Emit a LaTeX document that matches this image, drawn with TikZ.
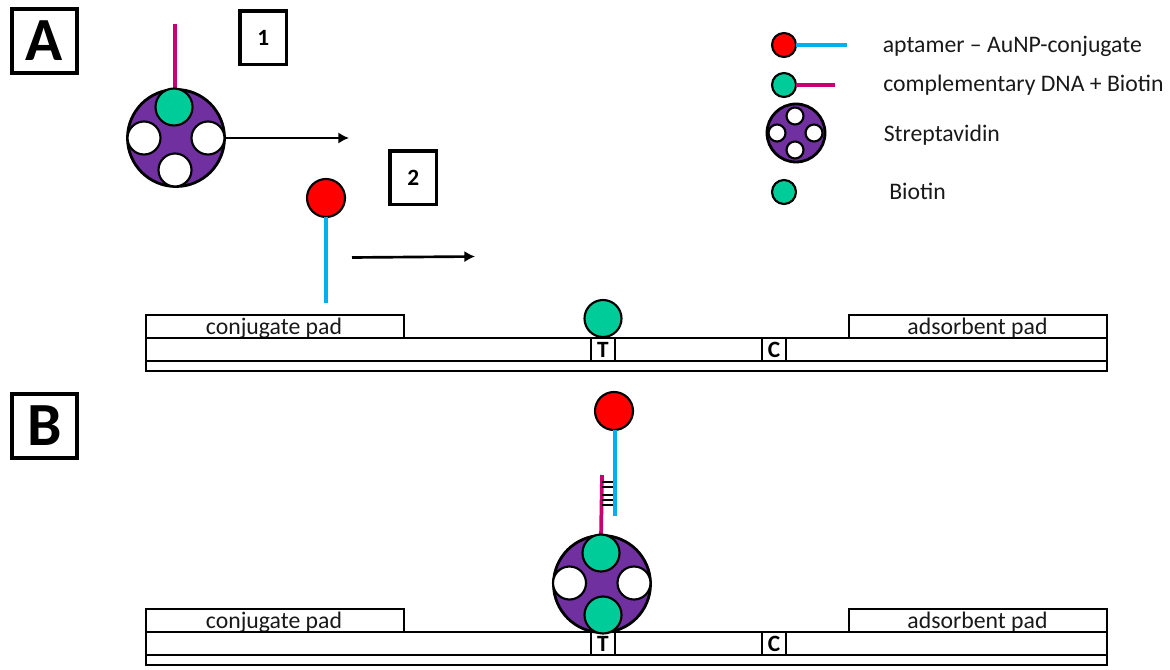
\documentclass[tikz,border=0pt]{standalone}
\usepackage{fontspec}
\setmainfont{Carlito}
\usetikzlibrary{arrows.meta}
\definecolor{biotingreen}{HTML}{00CC99}
\definecolor{avidinpurple}{HTML}{7030A0}
\definecolor{aptamerblue}{HTML}{00B0F0}
\definecolor{dnamagenta}{HTML}{C90070}
\definecolor{goldred}{HTML}{FF0000}
\newcommand{\labelfont}{\fontsize{17.8pt}{20pt}\selectfont}
\newcommand{\markfont}{\fontsize{17.5pt}{19pt}\selectfont}
\tikzset{
  x=0.75pt, y=-0.75pt,
  ball/.style={circle, draw=black, line width=1.6pt, inner sep=0pt, outer sep=0pt, minimum size=#1*1.5pt},
  gold/.style={ball=19, fill=goldred},
  goldsmall/.style={ball=12, fill=goldred},
  biotin/.style={ball=18.5, fill=biotingreen},
  biotinsmall/.style={ball=12, fill=biotingreen},
  avidin/.style={ball=48.5, fill=avidinpurple, line width=2.1pt},
  avidinsmall/.style={ball=29, fill=avidinpurple, line width=2.1pt},
  hole/.style={ball=16.5, fill=white},
  holesmall/.style={ball=8.5, fill=white},
  panel/.style={draw=black, line width=1.7pt, fill=white, inner sep=0pt, outer sep=0pt, anchor=north west},
  padbox/.style={panel, minimum width=193.5pt, minimum height=17.25pt},
  stripbox/.style={panel, minimum width=720.75pt, minimum height=17.25pt},
  backing/.style={panel, minimum width=720.75pt, minimum height=7.5pt},
  linebox/.style={panel, minimum width=18pt, minimum height=17.25pt, font=\markfont\bfseries},
  stepnum/.style={panel, line width=2.5pt, minimum width=35pt, minimum height=40.3pt, font=\markfont\bfseries},
  partbox/.style={panel, line width=3pt, minimum width=48.75pt, minimum height=48pt, font=\fontsize{46pt}{50pt}\selectfont\bfseries},
  padtext/.style={anchor=base, inner sep=0pt, font=\labelfont, text=black!90},
  legendtext/.style={anchor=base west, inner sep=0pt, font=\labelfont, text=black!90},
  blueline/.style={draw=aptamerblue, line width=2.8pt},
  pinkline/.style={draw=dnamagenta, line width=2.8pt},
  flow/.style={draw=black, line width=2pt, -{Latex[length=8pt, width=8.5pt]}},
  basepair/.style={draw=black, line width=1.5pt}
}
\begin{document}
\begin{tikzpicture}
\useasboundingbox (0,0) rectangle (1170,670);

% panel letters and step numbers
\node[partbox] (partA) at (12,9) {A};
\node[partbox] (partB) at (12,394) {B};
\node[stepnum] (stepOne) at (240,11) {1};
\node[stepnum] (stepTwo) at (390,151) {2};

% panel A: biotinylated DNA on streptavidin
\coordinate (pinkTopA) at (175,24);
\draw[pinkline] (pinkTopA) -- (175,92);
\node[avidin] (avidinA) at (176,138) {};
\node[biotin] (avidinAtop) at (174,107) {};
\node[hole] (avidinAleft) at (144,138) {};
\node[hole] (avidinAright) at (208,138) {};
\node[hole] (avidinAbottom) at (175,170) {};
\coordinate (flowOneEnd) at (349,138);
\draw[flow] (avidinA.east) -- (flowOneEnd);

% panel A: aptamer conjugate
\node[gold] (goldA) at (326,198) {};
\coordinate (blueEndA) at (326,303);
\draw[blueline] (goldA.south) -- (blueEndA);
\coordinate (flowTwoStart) at (352,257.5);
\coordinate (flowTwoEnd) at (475,256.5);
\draw[flow] (flowTwoStart) -- (flowTwoEnd);

% panel A: test strip
\node[padbox] (conjPadA) at (146,315) {};
\node[padbox] (absPadA) at (849,315) {};
\node[padtext] (conjTextA) at (274,334) {conjugate pad};
\node[padtext] (absTextA) at (977.5,334) {adsorbent pad};
\node[stripbox] (stripA) at (146,338) {};
\node[backing] (backingA) at (146,361) {};
\node[linebox] (testA) at (591,338) {T};
\node[linebox] (ctrlA) at (762,338) {C};
\node[biotin] (biotinA) at (603,318.5) {};

% panel B: assembled complex on the test line
\node[gold] (goldB) at (614,411) {};
\coordinate (blueEndB) at (615,516);
\draw[blueline] (goldB.south) ++(1,0) -- (blueEndB);
\coordinate (pinkTopB) at (602,475);
\draw[pinkline] (pinkTopB) -- (601,538);
\foreach \yy/\nn in {481.7/a,487.3/b,495/c,499.6/d,505/e}{
  \coordinate (pair\nn L) at (602,\yy);
  \coordinate (pair\nn R) at (613,\yy);
  \draw[basepair] (pair\nn L) -- (pair\nn R);
}
\node[padbox] (conjPadB) at (146,609) {};
\node[padbox] (absPadB) at (849,609) {};
\node[padtext] (conjTextB) at (274,628) {conjugate pad};
\node[padtext] (absTextB) at (977.5,628) {adsorbent pad};
\node[stripbox] (stripB) at (146,632) {};
\node[backing] (backingB) at (146,655) {};
\node[linebox] (testB) at (591,632) {T};
\node[linebox] (ctrlB) at (762,632) {C};
\node[avidin] (avidinB) at (602,584) {};
\node[biotin] (avidinBtop) at (601,553) {};
\node[biotin] (avidinBbottom) at (603,615) {};
\node[hole] (avidinBleft) at (569.5,583) {};
\node[hole] (avidinBright) at (634,583) {};

% legend
\node[goldsmall] (legGold) at (784,45) {};
\coordinate (legBlueEnd) at (847,45);
\draw[blueline] (legGold.east) -- (legBlueEnd);
\node[biotinsmall] (legDna) at (784,85) {};
\coordinate (legPinkEnd) at (835,85);
\draw[pinkline] (legDna.east) -- (legPinkEnd);
\node[avidinsmall] (legAvidin) at (796,133) {};
\node[holesmall] (legHoleTop) at (795,116) {};
\node[holesmall] (legHoleLeft) at (777,133) {};
\node[holesmall] (legHoleRight) at (814,133) {};
\node[holesmall] (legHoleBottom) at (795,150) {};
\node[biotinsmall] (legBiotin) at (784,192) {};
\node[legendtext] (legTextGold) at (882.5,53) {aptamer – AuNP-conjugate};
\node[legendtext] (legTextDna) at (883,92) {complementary DNA + Biotin};
\node[legendtext] (legTextAvidin) at (883.5,142) {Streptavidin};
\node[legendtext] (legTextBiotin) at (889,200) {Biotin};
\end{tikzpicture}
\end{document}
